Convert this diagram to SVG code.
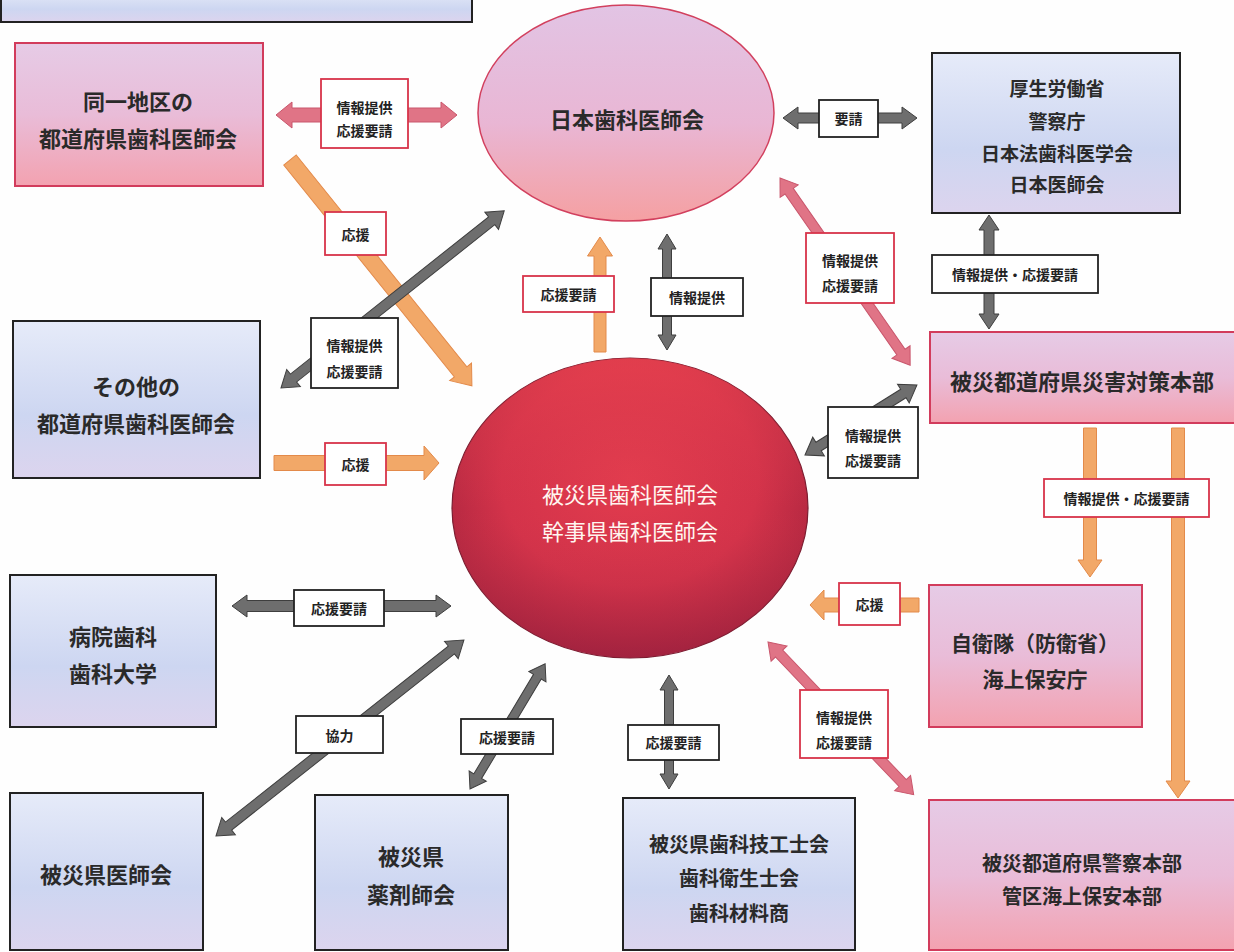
<svg xmlns="http://www.w3.org/2000/svg" width="1234" height="952" viewBox="0 0 1234 952">
<defs>
<linearGradient id="gPink" x1="0" y1="0" x2="0" y2="1">
<stop offset="0" stop-color="#e6cbe6"/><stop offset="0.5" stop-color="#e9bcd8"/><stop offset="1" stop-color="#f3a2b0"/>
</linearGradient>
<linearGradient id="gBlue" x1="0" y1="0" x2="0" y2="1">
<stop offset="0" stop-color="#e6ebf9"/><stop offset="0.6" stop-color="#cdd6f1"/><stop offset="1" stop-color="#dcd4ee"/>
</linearGradient>
<linearGradient id="gEllTop" x1="0" y1="0" x2="0" y2="1">
<stop offset="0" stop-color="#e2c4e4"/><stop offset="0.55" stop-color="#e9b6d4"/><stop offset="1" stop-color="#f5a0a2"/>
</linearGradient>
<radialGradient id="gRed" cx="0.5" cy="0.4" r="0.6">
<stop offset="0" stop-color="#e23c4e"/><stop offset="0.6" stop-color="#d4334a"/><stop offset="1" stop-color="#a8243e"/>
</radialGradient>
<linearGradient id="gRedV" x1="0" y1="0" x2="0" y2="1">
<stop offset="0" stop-color="#ee4650" stop-opacity="0.6"/><stop offset="0.5" stop-color="#d63a4c" stop-opacity="0"/><stop offset="1" stop-color="#9c2040" stop-opacity="0.5"/>
</linearGradient>
</defs>
<style>
text{font-family:"Noto Sans CJK JP","Noto Sans CJK SC",sans-serif;text-anchor:middle;dominant-baseline:central}
.bt{font-size:22px;font-weight:bold;fill:#2a2a2a}
.bt19{font-size:19px;font-weight:bold;fill:#2a2a2a}
.bt20{font-size:20px;font-weight:bold;fill:#2a2a2a}
.bt21{font-size:21px;font-weight:bold;fill:#2a2a2a}
.wt{font-size:22px;fill:#fff6f0}
.lt{font-size:14px;font-weight:bold;fill:#222}
.pbox{fill:url(#gPink);stroke:#d23c5c;stroke-width:2}
.bbox{fill:url(#gBlue);stroke:#222;stroke-width:2}
.lblk{fill:#fff;stroke:#222;stroke-width:1.8}
.lred{fill:#fff;stroke:#d8344a;stroke-width:1.8}
.ag{fill:#6e6e6e;stroke:#3e3e3e;stroke-width:1}
.ao{fill:#f2a868;stroke:#e38a4a;stroke-width:1}
.ap{fill:#e07486;stroke:#c9566c;stroke-width:1}
</style>
<rect width="1234" height="952" fill="#fefefe"/>

<g id="topbox"><rect x="1" y="-10" width="471" height="32" class="bbox"/></g>

<g id="connectors">
<!-- pink top-left horizontal -->
<path class="ap" transform="translate(276,115)" d="M0,0 L16,-13 L16,-7 L165,-7 L165,-13 L181,0 L165,13 L165,7 L16,7 L16,13 Z"/>
<!-- gray youseki horizontal -->
<path class="ag" transform="translate(783,118)" d="M0,0 L15,-11 L15,-5 L119,-5 L119,-11 L134,0 L119,11 L119,5 L15,5 L15,11 Z"/>
<!-- gray vertical right -->
<path class="ag" transform="translate(989,215) rotate(90)" d="M0,0 L15,-10 L15,-5 L99,-5 L99,-10 L114,0 L99,10 L99,5 L15,5 L15,10 Z"/>
<!-- orange down 1 -->
<path class="ao" transform="translate(1090,428) rotate(90)" d="M0,-6.5 L132,-6.5 L132,-12 L149,0 L132,12 L132,6.5 L0,6.5 Z"/>
<!-- orange down 2 -->
<path class="ao" transform="translate(1178,428) rotate(90)" d="M0,-6.5 L353,-6.5 L353,-12 L370,0 L353,12 L353,6.5 L0,6.5 Z"/>
<!-- orange left ouen -->
<path class="ao" transform="translate(919,605) rotate(180)" d="M0,-7 L95,-7 L95,-15 L109,0 L95,15 L95,7 L0,7 Z"/>
<!-- orange right ouen -->
<path class="ao" transform="translate(274,463)" d="M0,-7.5 L150,-7.5 L150,-17 L165,0 L150,17 L150,7.5 L0,7.5 Z"/>
<!-- orange diag -->
<path class="ao" transform="translate(290,160) rotate(51.15)" d="M0,-8 L272,-8 L272,-14 L290,0 L272,14 L272,8 L0,8 Z"/>
<!-- gray diag left double -->
<path class="ag" transform="translate(281,388) rotate(-38.44)" d="M0,0 L16,-11 L16,-5 L269,-5 L269,-11 L285,0 L269,11 L269,5 L16,5 L16,11 Z"/>
<!-- orange up -->
<path class="ao" transform="translate(600,352) rotate(-90)" d="M0,-6 L96,-6 L96,-12.5 L115,0 L96,12.5 L96,6 L0,6 Z"/>
<!-- gray vertical center -->
<path class="ag" transform="translate(667,234) rotate(90)" d="M0,0 L15,-9 L15,-4.5 L101,-4.5 L101,-9 L116,0 L101,9 L101,4.5 L15,4.5 L15,9 Z"/>
<!-- pink diag top -->
<path class="ap" transform="translate(780,178) rotate(55.19)" d="M0,0 L16,-11 L16,-5 L212,-5 L212,-11 L228,0 L212,11 L212,5 L16,5 L16,11 Z"/>
<!-- gray diag right -->
<path class="ag" transform="translate(805,455) rotate(-32.01)" d="M0,0 L16,-11 L16,-5 L116,-5 L116,-11 L132,0 L116,11 L116,5 L16,5 L16,11 Z"/>
<!-- pink diag bottom -->
<path class="ap" transform="translate(768,642) rotate(46.34)" d="M0,0 L16,-11 L16,-5 L195,-5 L195,-11 L211,0 L195,11 L195,5 L16,5 L16,11 Z"/>
<!-- gray horizontal hospital -->
<path class="ag" transform="translate(232,606)" d="M0,0 L15,-11 L15,-5.5 L204,-5.5 L204,-11 L219,0 L204,11 L204,5.5 L15,5.5 L15,11 Z"/>
<!-- gray kyouryoku diag -->
<path class="ag" transform="translate(216,836) rotate(-38.32)" d="M0,0 L16,-11 L16,-5 L300,-5 L300,-11 L316,0 L300,11 L300,5 L16,5 L16,11 Z"/>
<!-- gray yakuzai diag -->
<path class="ag" transform="translate(470,789) rotate(-59.04)" d="M0,0 L15,-10 L15,-4.5 L131,-4.5 L131,-10 L146,0 L131,10 L131,4.5 L15,4.5 L15,10 Z"/>
<!-- gray vertical bottom -->
<path class="ag" transform="translate(669,675) rotate(90)" d="M0,0 L15,-9 L15,-4.5 L99,-4.5 L99,-9 L114,0 L99,9 L99,4.5 L15,4.5 L15,9 Z"/>
</g>

<g id="labels">
<g id="l1"><rect x="321" y="79" width="87" height="69" class="lred"/><text class="lt" x="364.5" y="107">情報提供</text><text class="lt" x="364.5" y="130">応援要請</text></g>
<g id="l2"><rect x="819" y="100" width="59" height="37" class="lblk"/><text class="lt" x="848.5" y="118">要請</text></g>
<g id="l3"><rect x="325" y="212" width="61" height="43" class="lred"/><text class="lt" x="355.5" y="234">応援</text></g>
<g id="l4"><rect x="311" y="318" width="87" height="70" class="lblk"/><text class="lt" x="354.5" y="345">情報提供</text><text class="lt" x="354.5" y="371">応援要請</text></g>
<g id="l5"><rect x="523" y="276" width="91" height="36" class="lred"/><text class="lt" x="568.5" y="294">応援要請</text></g>
<g id="l6"><rect x="651" y="278" width="92" height="38" class="lblk"/><text class="lt" x="697" y="297">情報提供</text></g>
<g id="l7"><rect x="806" y="233" width="88" height="70" class="lred"/><text class="lt" x="850" y="260">情報提供</text><text class="lt" x="850" y="285">応援要請</text></g>
<g id="l8"><rect x="932" y="255" width="166" height="38" class="lblk"/><text class="lt" x="1015" y="274">情報提供・応援要請</text></g>
<g id="l9"><rect x="828" y="407" width="90" height="71" class="lblk"/><text class="lt" x="873" y="435">情報提供</text><text class="lt" x="873" y="460">応援要請</text></g>
<g id="l10"><rect x="325" y="443" width="61" height="42" class="lred"/><text class="lt" x="355.5" y="464">応援</text></g>
<g id="l11"><rect x="1044" y="479" width="165" height="38" class="lred"/><text class="lt" x="1126.5" y="498">情報提供・応援要請</text></g>
<g id="l12"><rect x="839" y="583" width="61" height="42" class="lred"/><text class="lt" x="869.5" y="604">応援</text></g>
<g id="l13"><rect x="294" y="590" width="90" height="36" class="lblk"/><text class="lt" x="339" y="608">応援要請</text></g>
<g id="l14"><rect x="296" y="716" width="87" height="37" class="lblk"/><text class="lt" x="339.5" y="735">協力</text></g>
<g id="l15"><rect x="461" y="719" width="92" height="35" class="lblk"/><text class="lt" x="507" y="737">応援要請</text></g>
<g id="l16"><rect x="628" y="725" width="91" height="35" class="lblk"/><text class="lt" x="673.5" y="742">応援要請</text></g>
<g id="l17"><rect x="800" y="690" width="88" height="68" class="lred"/><text class="lt" x="844" y="717">情報提供</text><text class="lt" x="844" y="742">応援要請</text></g>
</g>

<g id="n-same-region"><rect x="15" y="43" width="248" height="143" class="pbox"/><text class="bt" x="138" y="100">同一地区の</text><text class="bt" x="138" y="137">都道府県歯科医師会</text></g>
<g id="n-jda"><ellipse cx="626" cy="113" rx="148" ry="108" fill="url(#gEllTop)" stroke="#d2405e" stroke-width="1.5"/><text class="bt" x="627" y="118">日本歯科医師会</text></g>
<g id="n-ministry"><rect x="932" y="53" width="248" height="160" class="bbox"/><text class="bt19" x="1057" y="87">厚生労働省</text><text class="bt19" x="1057" y="120">警察庁</text><text class="bt19" x="1057" y="152">日本法歯科医学会</text><text class="bt19" x="1057" y="183">日本医師会</text></g>
<g id="n-other"><rect x="13" y="321" width="247" height="157" class="bbox"/><text class="bt" x="136" y="385">その他の</text><text class="bt" x="136" y="422">都道府県歯科医師会</text></g>
<g id="n-disaster-hq"><rect x="930" y="332" width="310" height="91" class="pbox"/><text class="bt" x="1082" y="380">被災都道府県災害対策本部</text></g>
<g id="n-center"><ellipse cx="630" cy="508" rx="178" ry="150" fill="url(#gRed)" stroke="#7a1c30" stroke-width="1.2"/><ellipse cx="630" cy="508" rx="178" ry="150" fill="url(#gRedV)"/><text class="wt" x="630" y="493">被災県歯科医師会</text><text class="wt" x="630" y="530">幹事県歯科医師会</text></g>
<g id="n-sdf"><rect x="929" y="585" width="213" height="142" class="pbox"/><text class="bt21" x="1035" y="642">自衛隊（防衛省）</text><text class="bt21" x="1035" y="678">海上保安庁</text></g>
<g id="n-hospital"><rect x="10" y="575" width="206" height="152" class="bbox"/><text class="bt" x="113" y="635">病院歯科</text><text class="bt" x="113" y="672">歯科大学</text></g>
<g id="n-medical"><rect x="10" y="793" width="193" height="157" class="bbox"/><text class="bt" x="106" y="873">被災県医師会</text></g>
<g id="n-pharma"><rect x="315" y="795" width="193" height="155" class="bbox"/><text class="bt" x="411" y="855">被災県</text><text class="bt" x="411" y="893">薬剤師会</text></g>
<g id="n-technician"><rect x="623" y="798" width="232" height="152" class="bbox"/><text class="bt20" x="739" y="843">被災県歯科技工士会</text><text class="bt20" x="739" y="877">歯科衛生士会</text><text class="bt20" x="739" y="912">歯科材料商</text></g>
<g id="n-police"><rect x="929" y="800" width="311" height="150" class="pbox"/><text class="bt20" x="1082" y="862">被災都道府県警察本部</text><text class="bt20" x="1082" y="895">管区海上保安本部</text></g>
</svg>
